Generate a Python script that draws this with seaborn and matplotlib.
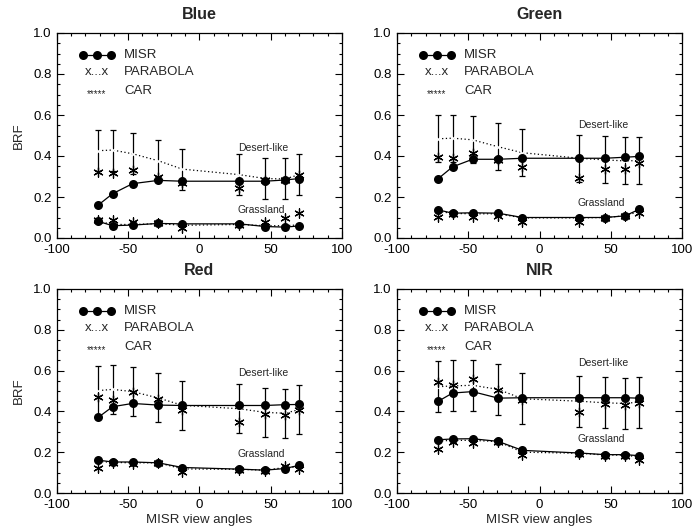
import numpy as np
import pandas as pd
import seaborn as sns
import matplotlib
matplotlib.use("Agg")
import matplotlib.pyplot as plt
from matplotlib.ticker import MultipleLocator

# ---------------- data ----------------
angles = [-71, -61, -47, -29, -12, 28, 46, 60, 70]
bands = ["Blue", "Green", "Red", "NIR"]

blue_misr_desert = [0.161, 0.216, 0.265, 0.281, 0.277, 0.277, 0.277, 0.283, 0.290]
blue_para_desert = [0.426, 0.429, 0.411, 0.377, 0.336, 0.309, 0.290, 0.288, 0.309]
blue_car_desert = [0.323, 0.318, 0.334, 0.300, 0.270, 0.242, 0.282, 0.285, 0.306]
blue_misr_grass = [0.081, 0.060, 0.063, 0.071, 0.069, 0.069, 0.056, 0.053, 0.059]
blue_para_grass = [0.082, 0.066, 0.066, 0.070, 0.062, 0.066, 0.060, 0.060, 0.064]
blue_car_grass = [0.090, 0.088, 0.077, 0.072, 0.050, 0.061, 0.080, 0.096, 0.122]
blue_err = 0.10

green_misr_desert = [0.290, 0.347, 0.384, 0.384, 0.389, 0.389, 0.389, 0.394, 0.398]
green_para_desert = [0.484, 0.487, 0.479, 0.445, 0.416, 0.389, 0.381, 0.376, 0.378]
green_car_desert = [0.397, 0.389, 0.415, 0.381, 0.344, 0.295, 0.336, 0.339, 0.364]
green_misr_grass = [0.137, 0.121, 0.123, 0.121, 0.100, 0.100, 0.100, 0.108, 0.140]
green_para_grass = [0.130, 0.120, 0.118, 0.118, 0.098, 0.098, 0.100, 0.108, 0.130]
green_car_grass = [0.103, 0.116, 0.103, 0.108, 0.078, 0.078, 0.100, 0.108, 0.120]
green_err = 0.115

red_misr_desert = [0.371, 0.423, 0.439, 0.431, 0.429, 0.429, 0.429, 0.433, 0.434]
red_para_desert = [0.502, 0.508, 0.497, 0.466, 0.430, 0.413, 0.395, 0.391, 0.409]
red_car_desert = [0.470, 0.454, 0.494, 0.462, 0.405, 0.349, 0.385, 0.381, 0.405]
red_misr_grass = [0.161, 0.152, 0.152, 0.148, 0.125, 0.117, 0.112, 0.120, 0.136]
red_para_grass = [0.155, 0.150, 0.148, 0.148, 0.118, 0.116, 0.112, 0.125, 0.128]
red_car_grass = [0.122, 0.149, 0.141, 0.149, 0.101, 0.114, 0.109, 0.130, 0.117]
red_err = 0.12

nir_misr_desert = [0.450, 0.490, 0.497, 0.465, 0.467, 0.467, 0.467, 0.467, 0.465]
nir_para_desert = [0.521, 0.525, 0.528, 0.508, 0.462, 0.450, 0.442, 0.439, 0.446]
nir_car_desert = [0.544, 0.528, 0.561, 0.503, 0.456, 0.396, 0.434, 0.429, 0.439]
nir_misr_grass = [0.261, 0.265, 0.266, 0.253, 0.209, 0.196, 0.188, 0.188, 0.183]
nir_para_grass = [0.255, 0.258, 0.258, 0.252, 0.200, 0.195, 0.186, 0.186, 0.176]
nir_car_grass = [0.217, 0.248, 0.245, 0.248, 0.188, 0.192, 0.179, 0.183, 0.163]
nir_err = 0.125

# label positions (data coords) for "Desert-like" / "Grassland"
desert_label_y = [0.44, 0.55, 0.59, 0.635]
grass_label_y = [0.135, 0.17, 0.19, 0.265]

panels = {
    "Blue": (blue_misr_desert, blue_para_desert, blue_car_desert,
             blue_misr_grass, blue_para_grass, blue_car_grass, blue_err),
    "Green": (green_misr_desert, green_para_desert, green_car_desert,
              green_misr_grass, green_para_grass, green_car_grass, green_err),
    "Red": (red_misr_desert, red_para_desert, red_car_desert,
            red_misr_grass, red_para_grass, red_car_grass, red_err),
    "NIR": (nir_misr_desert, nir_para_desert, nir_car_desert,
            nir_misr_grass, nir_para_grass, nir_car_grass, nir_err),
}

# ---------------- style ----------------
sns.set_theme(style="ticks")
plt.rcParams["font.family"] = ["Liberation Sans", "DejaVu Sans"]
plt.rcParams["axes.linewidth"] = 0.9
plt.rcParams["axes.unicode_minus"] = False

W, H = 692, 531
fig = plt.figure(figsize=(W / 100, H / 100), dpi=100)

boxes = {
    "Blue": (57, 33, 342, 238),
    "Green": (397, 33, 682, 238),
    "Red": (57, 289, 342, 493),
    "NIR": (397, 289, 682, 493),
}

asterisk = (6, 2, 0)

for i, band in enumerate(bands):
    l, t, r, b = boxes[band]
    ax = fig.add_axes([l / W, 1 - b / H, (r - l) / W, (b - t) / H])
    md, pd_, cd, mg, pg, cg, err = panels[band]

    df = pd.DataFrame({
        "angle": angles * 2,
        "misr": md + mg,
        "para": pd_ + pg,
        "car": cd + cg,
        "site": ["Desert-like"] * len(angles) + ["Grassland"] * len(angles),
    })

    # error bars around PARABOLA for desert site
    ax.errorbar(angles, pd_, yerr=err, fmt="none", ecolor="black",
                elinewidth=0.9, capsize=2, capthick=0.9, zorder=2)

    for site in ["Desert-like", "Grassland"]:
        sub = df[df["site"] == site]
        sns.lineplot(data=sub, x="angle", y="para", ax=ax, color="black",
                     linestyle=(0, (1, 2)), linewidth=0.9, marker="x",
                     markersize=6, markeredgewidth=0.9, sort=False,
                     estimator=None, zorder=3)
        sns.scatterplot(data=sub, x="angle", y="car", ax=ax, color="black",
                        marker=asterisk, s=45, linewidth=0.9, zorder=4)
        sns.lineplot(data=sub, x="angle", y="misr", ax=ax, color="black",
                     linewidth=0.9, marker="o", markersize=6.5,
                     markeredgewidth=0, sort=False, estimator=None, zorder=5)

    ax.text(45, desert_label_y[i], "Desert-like", fontsize=7.5,
            ha="center", va="center")
    ax.text(43, grass_label_y[i], "Grassland", fontsize=7.5,
            ha="center", va="center")

    # legend (drawn in axes fraction)
    ax.plot([0.09, 0.14, 0.19], [0.893, 0.893, 0.893], color="black",
            linewidth=0.9, marker="o", markersize=6.5, markeredgewidth=0,
            transform=ax.transAxes, clip_on=False)
    ax.text(0.235, 0.893, "MISR", transform=ax.transAxes, fontsize=9.5,
            va="center", ha="left")
    ax.text(0.14, 0.81, "x...x", transform=ax.transAxes, fontsize=9.5,
            va="center", ha="center")
    ax.text(0.235, 0.81, "PARABOLA", transform=ax.transAxes, fontsize=9.5,
            va="center", ha="left")
    ax.text(0.14, 0.70, "*****", transform=ax.transAxes, fontsize=7,
            va="center", ha="center")
    ax.text(0.235, 0.717, "CAR", transform=ax.transAxes, fontsize=9.5,
            va="center", ha="left")

    ax.set_xlim(-100, 100)
    ax.set_ylim(0, 1.0)
    ax.xaxis.set_major_locator(MultipleLocator(50))
    ax.xaxis.set_minor_locator(MultipleLocator(10))
    ax.yaxis.set_major_locator(MultipleLocator(0.2))
    ax.yaxis.set_minor_locator(MultipleLocator(0.05))
    ax.yaxis.set_major_formatter(matplotlib.ticker.FormatStrFormatter("%.1f"))
    ax.tick_params(which="both", direction="in", top=True, right=True,
                   labelsize=9.5, width=0.8, colors="black")
    ax.tick_params(axis="x", which="major", pad=4.5)
    ax.tick_params(axis="y", which="major", pad=4)
    ax.tick_params(which="major", length=5)
    ax.tick_params(which="minor", length=2.5)
    for sp in ax.spines.values():
        sp.set_color("black")

    ax.set_title(band, fontsize=11.5, fontweight="bold", pad=10)
    ax.set_xlabel("MISR view angles" if band in ("Red", "NIR") else "",
                  fontsize=9.5, labelpad=2)
    ax.set_ylabel("BRF" if band in ("Blue", "Red") else "", fontsize=9.5,
                  labelpad=6)

fig.savefig("out.png", dpi=100)
